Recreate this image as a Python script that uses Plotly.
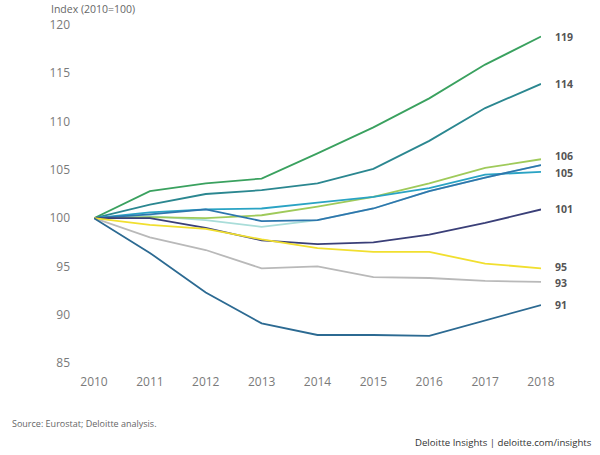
import plotly.graph_objects as go

years = [2010, 2011, 2012, 2013, 2014, 2015, 2016, 2017, 2018]

green = [100, 102.8, 103.6, 104.1, 106.7, 109.4, 112.4, 115.9, 118.8]
teal = [100, 101.4, 102.5, 102.9, 103.6, 105.1, 108.0, 111.4, 113.9]
light_green = [100, 100.1, 100.0, 100.3, 101.2, 102.2, 103.6, 105.2, 106.1]
cyan = [100, 100.6, 100.9, 101.0, 101.6, 102.2, 103.1, 104.5, 104.8]
blue = [100, 100.4, 100.9, 99.7, 99.8, 101.0, 102.8, 104.2, 105.5]
pale_cyan = [100, 100.2, 99.8, 99.1, 99.8, 101.0, 102.8, 104.2, 105.5]
navy = [100, 100.0, 99.0, 97.7, 97.3, 97.5, 98.3, 99.5, 100.9]
yellow = [100, 99.3, 98.9, 97.8, 96.9, 96.5, 96.5, 95.3, 94.8]
gray = [100, 98.0, 96.7, 94.8, 95.0, 93.9, 93.8, 93.5, 93.4]
dark_blue = [100, 96.4, 92.3, 89.1, 87.9, 87.9, 87.8, 89.4, 91.0]

y_ticks = [85, 90, 95, 100, 105, 110, 115, 120]

series = [
    (pale_cyan, "#a9ddd9", None),
    (green, "#3aa15f", "119"),
    (teal, "#2b8790", "114"),
    (light_green, "#9fca5a", "106"),
    (cyan, "#2aa3c4", "105"),
    (blue, "#2e76ad", None),
    (navy, "#3a3f78", "101"),
    (gray, "#b9b9b9", "93"),
    (yellow, "#f1df2f", "95"),
    (dark_blue, "#2c6a92", "91"),
]

label_shift = {"106": 3, "105": -1, "95": 1, "93": -1}

fig = go.Figure()
for vals, col, lab in series:
    fig.add_trace(go.Scatter(x=years, y=vals, mode="lines",
                             line=dict(color=col, width=1.8),
                             hoverinfo="skip", showlegend=False))
    if lab:
        fig.add_annotation(x=years[-1], y=vals[-1], text="<b>" + lab + "</b>",
                           showarrow=False, xanchor="left", yanchor="middle",
                           xshift=12, yshift=label_shift.get(lab, 0),
                           font=dict(size=10.5, color="#555555", family="Open Sans"))

T, B, L, R = 25, 92, 94, 59
PW, PH = 600 - L - R, 455 - T - B

fig.add_annotation(x=(49 - L) / PW, y=1 + (T - 0) / PH, xref="paper", yref="paper",
                   text="Index (2010=100)", showarrow=False,
                   xanchor="left", yanchor="top",
                   font=dict(size=10.5, color="#666666", family="Open Sans"))
fig.add_annotation(x=(10 - L) / PW, y=-(423 - (455 - B)) / PH, xref="paper", yref="paper",
                   text="Source: Eurostat; Deloitte analysis.", showarrow=False,
                   xanchor="left", yanchor="middle",
                   font=dict(size=9, color="#666666", family="Open Sans"))
fig.add_annotation(x=(594 - L) / PW, y=-(442 - (455 - B)) / PH, xref="paper", yref="paper",
                   text="Deloitte Insights | deloitte.com/insights", showarrow=False,
                   xanchor="right", yanchor="middle",
                   font=dict(size=9.6, color="#333333", family="Open Sans"))

fig.update_layout(
    width=600, height=455,
    margin=dict(l=L, r=R, t=T, b=B),
    paper_bgcolor="white", plot_bgcolor="white",
    font=dict(family="Open Sans", color="#777777", size=12),
    xaxis=dict(range=[2010, 2018], tickvals=years, showgrid=False, zeroline=False,
               showline=False, ticks="", ticklabelstandoff=10,
               tickfont=dict(size=12, color="#7a7a7a")),
    yaxis=dict(range=[85, 120], tickvals=y_ticks, showgrid=False, zeroline=False,
               showline=False, ticks="", ticklabelstandoff=23,
               tickfont=dict(size=12, color="#7a7a7a")),
)

fig.write_html("out.html")
